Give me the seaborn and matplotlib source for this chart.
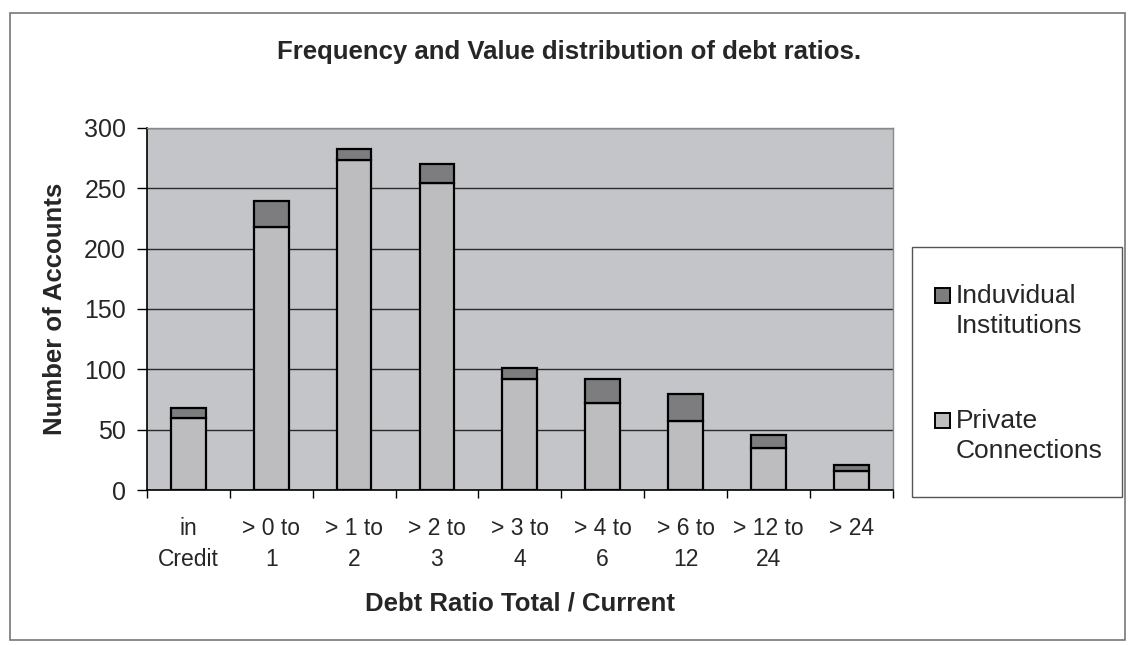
import numpy as np
import pandas as pd
import matplotlib
matplotlib.use("Agg")
import matplotlib.pyplot as plt
import seaborn as sns
from matplotlib.patches import Rectangle

# values
categories = ["in\nCredit", "> 0 to\n1", "> 1 to\n2", "> 2 to\n3", "> 3 to\n4",
              "> 4 to\n6", "> 6 to\n12", "> 12 to\n24", "> 24"]
private = [60, 218, 273, 254, 92, 72, 57, 35, 16]
individual = [8, 21, 9, 16, 9, 20, 23, 11, 5]
y_ticks = [0, 50, 100, 150, 200, 250, 300]
legend_labels = ["Induvidual\nInstitutions", "Private\nConnections"]

col_private = "#bdbdbf"
col_indiv = "#7d7d7f"

df = pd.DataFrame({"cat": categories, "private": private, "individual": individual})

sns.set_style("white")
plt.rcParams["font.family"] = ["Liberation Sans", "DejaVu Sans"]

fig = plt.figure(figsize=(11.3, 6.45), dpi=100)
ax = fig.add_axes([0.130, 0.240, 0.660, 0.562])
ax.set_facecolor("#c4c5c8")

sns.barplot(data=df, x="cat", y="private", color=col_private, saturation=1,
            width=0.42, edgecolor="black", linewidth=1.6, ax=ax, zorder=3)
sns.barplot(data=df, x="cat", y="individual", color=col_indiv, saturation=1,
            width=0.42, edgecolor="black", linewidth=1.6, ax=ax,
            bottom=df["private"], zorder=3)

ax.set_ylim(0, 300)
ax.set_xlim(-0.5, len(categories) - 0.5)
ax.set_yticks(y_ticks)
ax.yaxis.grid(True, color="#2a2a2a", linewidth=1.0, zorder=1)
ax.set_axisbelow(True)

# excel style: x ticks between the categories
ax.set_xticks(np.arange(-0.5, len(categories), 1.0), minor=True)
ax.tick_params(axis="x", which="major", length=0, pad=19, labelsize=16.5)
ax.tick_params(axis="x", which="minor", length=6, width=1, color="black", direction="out")
ax.tick_params(axis="y", length=7, width=1, color="black", direction="out", labelsize=18, pad=8)
ax.xaxis.set_tick_params(bottom=True, which="both")
ax.yaxis.set_tick_params(left=True)
for t in ax.get_xticklabels():
    t.set_linespacing(1.45)

for s in ["left", "bottom"]:
    ax.spines[s].set_color("black")
    ax.spines[s].set_linewidth(1.2)
for s in ["top", "right"]:
    ax.spines[s].set_color("#8a8a8a")
    ax.spines[s].set_linewidth(1.0)

ax.set_xlabel("Debt Ratio Total / Current", fontsize=18.5, fontweight="bold", labelpad=15)
ax.set_ylabel("Number of Accounts", fontsize=18.5, fontweight="bold", labelpad=12)
fig.text(0.504, 0.919, "Frequency and Value distribution of debt ratios.",
         ha="center", va="center", fontsize=18.5, fontweight="bold")

# legend box drawn excel style (square next to the first line of each label)
def fx(px):
    return px / 1130


def fy(py):
    return 1 - py / 645


fig.add_artist(Rectangle((fx(912), fy(497)), fx(1122) - fx(912), fy(247) - fy(497),
                         transform=fig.transFigure, facecolor="white",
                         edgecolor="#555555", linewidth=1.0))
for lab, col, ytop in zip(legend_labels, [col_indiv, col_private], [284, 409]):
    fig.add_artist(Rectangle((fx(935), fy(ytop + 19)), fx(15), 15 / 645,
                             transform=fig.transFigure, facecolor=col,
                             edgecolor="black", linewidth=1.4))
    fig.text(fx(956), fy(ytop), lab, ha="left", va="top", fontsize=19,
             linespacing=1.3)

# outer chart border
fig.add_artist(Rectangle((0.009, 0.008), 0.987, 0.972, transform=fig.transFigure,
                         fill=False, edgecolor="#777777", linewidth=1.2))

fig.savefig("out.png", dpi=100, facecolor="white")
